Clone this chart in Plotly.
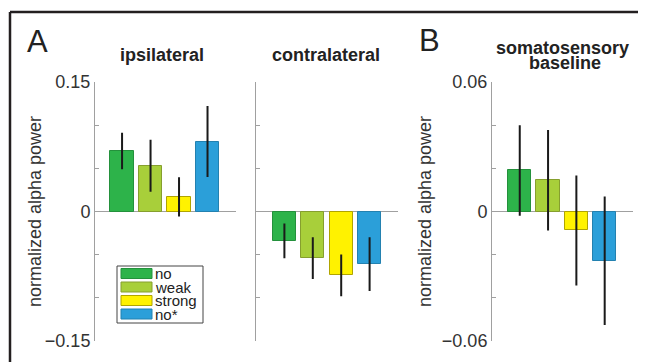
import plotly.graph_objects as go

W, H = 646, 362
OFF = 8  # page body margin of the browser, compensated in positions

conditions = ["no", "weak", "strong", "no*"]
colors = ["#2db34a", "#a8cf3a", "#fff200", "#2b9fd9"]
edge_colors = ["#24913c", "#869f2e", "#b0a400", "#2381b0"]

ipsi_means = [0.070, 0.053, 0.017, 0.081]
ipsi_errs = [0.020, 0.029, 0.0215, 0.040]
contra_means = [-0.034, -0.054, -0.074, -0.061]
contra_errs = [0.019, 0.023, 0.023, 0.030]
soma_means = [0.019, 0.0145, -0.0088, -0.0228]
soma_errs = [0.0205, 0.0228, 0.025, 0.0293]

ticks_a = [-0.15, -0.10, -0.05, 0, 0.05, 0.10, 0.15]
ticklabels_a = ["\u22120.15", "", "", "0", "", "", "0.15"]
ticks_b = [-0.06, -0.04, -0.02, 0, 0.02, 0.04, 0.06]
ticklabels_b = ["\u22120.06", "", "", "0", "", "", "0.06"]

FONT = "Liberation Sans, Arial, sans-serif"


def px(x):
    return (x - OFF) / W


def py(y):
    return 1 - (y - OFF) / H


fig = go.Figure()
panels = [
    (ipsi_means, ipsi_errs, "x", "y"),
    (contra_means, contra_errs, "x2", "y2"),
    (soma_means, soma_errs, "x3", "y3"),
]
for means, errs, xa, ya in panels:
    fig.add_trace(go.Bar(
        x=list(range(len(conditions))), y=means,
        marker=dict(color=colors, line=dict(color=edge_colors, width=1)),
        width=0.82,
        error_y=dict(type="data", array=errs, visible=True, color="#1a1a1a",
                     thickness=2, width=1),
        xaxis=xa, yaxis=ya, showlegend=False,
    ))

ydom = [py(341), py(82)]
xdoms = [[px(95), px(236)], [px(256), px(398)], [px(492), px(633)]]
xranges = [[-0.95, 4.0], [-1.0, 4.0], [-0.98, 4.0]]

common_x = dict(showgrid=False, showline=False, ticks="", showticklabels=False,
                zeroline=False, fixedrange=True, automargin=False)
common_y = dict(showgrid=False, showline=True, linecolor="#a0a0a0", linewidth=1,
                ticks="inside", ticklen=4, tickcolor="#a0a0a0",
                zeroline=True, zerolinecolor="#a0a0a0", zerolinewidth=1,
                tickfont=dict(family=FONT, size=18, color="#333333"),
                domain=ydom, automargin=False, fixedrange=True)

layout = dict(
    template="none",
    width=W, height=H, margin=dict(l=0, r=0, t=0, b=0, pad=0, autoexpand=False),
    paper_bgcolor="white", plot_bgcolor="white", bargap=0,
    font=dict(family=FONT, color="#222222"),
    xaxis=dict(common_x, domain=xdoms[0], range=xranges[0], anchor="y"),
    xaxis2=dict(common_x, domain=xdoms[1], range=xranges[1], anchor="y2"),
    xaxis3=dict(common_x, domain=xdoms[2], range=xranges[2], anchor="y3"),
    yaxis=dict(common_y, range=[-0.15, 0.15], tickvals=ticks_a,
               ticktext=ticklabels_a, anchor="x"),
    yaxis2=dict(common_y, range=[-0.15, 0.15], tickvals=ticks_a,
                showticklabels=False, anchor="x2"),
    yaxis3=dict(common_y, range=[-0.06, 0.06], tickvals=ticks_b,
                ticktext=ticklabels_b, anchor="x3"),
)
fig.update_layout(**layout)

ann = []


def text(x, y, s, size, bold=False, angle=0, xanchor="center", color="#222222"):
    ann.append(dict(xref="paper", yref="paper", x=px(x), y=py(y), text=(f"<b>{s}</b>" if bold else s),
                    showarrow=False, xanchor=xanchor, yanchor="middle", textangle=angle,
                    font=dict(family=FONT, size=size, color=color)))


text(37, 41, "A", 31)
text(429, 40, "B", 31)
text(162, 55, "ipsilateral", 18, bold=True)
text(326, 55, "contralateral", 18, bold=True)
text(562, 48, "somatosensory", 18, bold=True)
text(565, 63, "baseline", 18, bold=True)
text(35, 212, "normalized alpha power", 18, angle=-90, color="#333333")
text(425, 212, "normalized alpha power", 18, angle=-90, color="#333333")

shapes = []
# frame
shapes.append(dict(type="line", xref="paper", yref="paper", x0=px(10), x1=px(660), y0=py(12), y1=py(12),
                   line=dict(color="#231f20", width=2.5)))
shapes.append(dict(type="line", xref="paper", yref="paper", x0=px(10), x1=px(10), y0=py(12), y1=py(380),
                   line=dict(color="#231f20", width=2.5)))
# legend box
shapes.append(dict(type="rect", xref="paper", yref="paper", x0=px(117), x1=px(203), y0=py(266), y1=py(323),
                   line=dict(color="#444444", width=1), fillcolor="white"))
row_y = [273.5, 287, 300.5, 314]
for i, name in enumerate(conditions):
    yc = row_y[i]
    shapes.append(dict(type="rect", xref="paper", yref="paper", x0=px(121), x1=px(152),
                       y0=py(yc + 5), y1=py(yc - 5),
                       line=dict(color=edge_colors[i], width=1), fillcolor=colors[i]))
    text(153, yc, name, 15, xanchor="left", color="#222222")

fig.update_layout(annotations=ann, shapes=shapes)
fig.write_html("out.html")
